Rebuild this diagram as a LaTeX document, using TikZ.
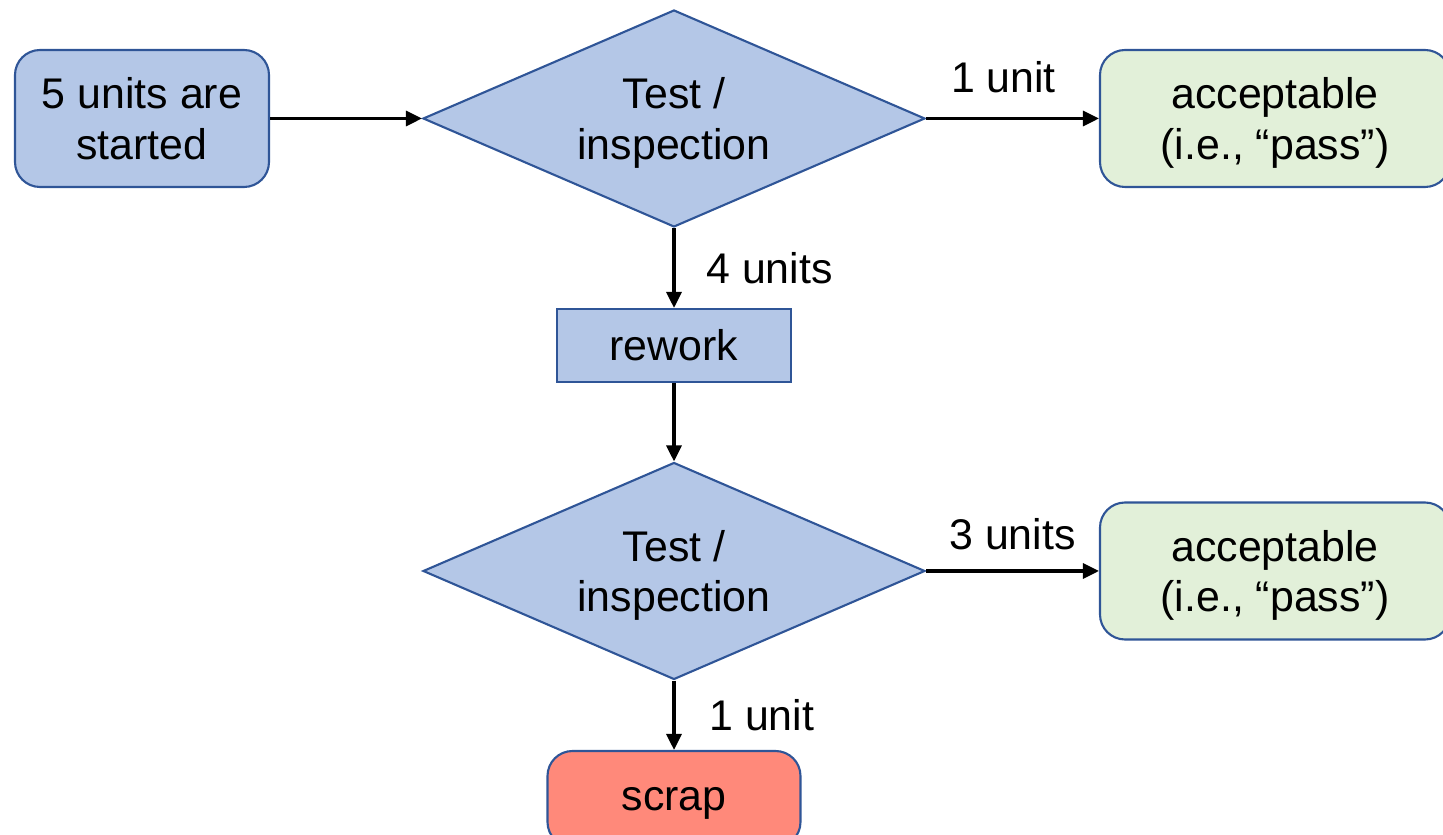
\documentclass[tikz,border=0pt]{standalone}
\usepackage{fontspec}
\setmainfont{Liberation Sans}
\usepackage{tikz}
\usetikzlibrary{shapes.geometric,arrows.meta}
\definecolor{boxblue}{RGB}{180,199,231}
\definecolor{edgeblue}{RGB}{47,85,151}
\definecolor{boxgreen}{RGB}{226,240,217}
\definecolor{boxred}{RGB}{255,137,122}

\begin{document}
\begin{tikzpicture}[
  every node/.style={font=\fontsize{12.2}{14.3}\selectfont},
  roundbox/.style={draw=edgeblue, line width=0.6pt, rounded corners=0.25cm, align=center, text depth=0pt},
  testbox/.style={diamond, draw=edgeblue, line width=0.6pt, fill=boxblue, inner sep=0pt,
    aspect=2.31, minimum width=5.02cm, minimum height=2.17cm, align=center, text depth=0pt},
  flow/.style={line width=0.9pt, -{Triangle[length=1.6mm, width=1.5mm]}}
 ]
 \useasboundingbox (0,0) rectangle (14.43,-8.35);
 \clip (0,0) rectangle (14.43,-8.35);
 \node[roundbox, fill=boxblue, minimum width=2.54cm, minimum height=1.37cm] at (1.42,-1.185)(start){5 units are\\started};
 \node[testbox] at (6.74,-1.185)(test1){Test /\\inspection};
 \node[roundbox, fill=boxgreen, minimum width=3.5cm, minimum height=1.37cm] at (12.75,-1.185)(pass1){acceptable\\(i.e., “pass”)};
 \node[draw=edgeblue, line width=0.6pt, fill=boxblue, minimum width=2.34cm, minimum height=0.73cm] at (6.74,-3.455)(rework){rework};
 \node[testbox] at (6.74,-5.71)(test2){Test /\\inspection};
 \node[roundbox, fill=boxgreen, minimum width=3.5cm, minimum height=1.37cm] at (12.75,-5.71)(pass2){acceptable\\(i.e., “pass”)};
 \node[roundbox, fill=boxred, minimum width=2.53cm, minimum height=0.96cm] at (6.74,-7.99)(scrap){scrap};
 \draw[flow] (start) -- (test1);
 \draw[flow] (test1.east) -- node[above=0.12cm, xshift=-0.09cm]{1 unit} (pass1.west);
 \draw[flow] (test1.south) -- node[right=0.19cm]{4 units} (rework.north);
 \draw[flow] (rework.south) -- (test2.north);
 \draw[flow] (test2.east) -- node[above=0.08cm]{3 units} (pass2.west);
 \draw[flow] (test2.south) -- node[right=0.22cm]{1 unit} (scrap.north);
\end{tikzpicture}
\end{document}
